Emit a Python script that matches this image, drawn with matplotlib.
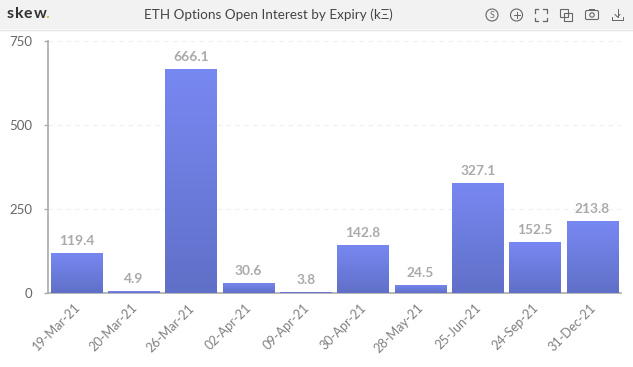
import numpy as np
import matplotlib
matplotlib.use("Agg")
import matplotlib.pyplot as plt
from matplotlib.patches import Rectangle, Circle, FancyBboxPatch
from matplotlib.colors import LinearSegmentedColormap
from matplotlib.transforms import ScaledTranslation

plt.rcParams['font.family'] = ['Lato', 'DejaVu Sans']

expiries = ["19-Mar-21", "20-Mar-21", "26-Mar-21", "02-Apr-21", "09-Apr-21",
            "30-Apr-21", "28-May-21", "25-Jun-21", "24-Sep-21", "31-Dec-21"]
open_interest = [119.4, 4.9, 666.1, 30.6, 3.8, 142.8, 24.5, 327.1, 152.5, 213.8]
y_ticks = [0, 250, 500, 750]
title = "ETH Options Open Interest by Expiry (k\u039E)"

W, H = 633, 367
fig = plt.figure(figsize=(W / 100, H / 100), dpi=100, facecolor="white")

# header / icon layer in pixel coordinates
ov = fig.add_axes([0, 0, 1, 1], zorder=0)
ov.set_xlim(0, W)
ov.set_ylim(H, 0)
ov.axis("off")
ov.add_patch(Rectangle((0, 0), W, 29, fc="#f2f2f2", ec="none"))
ov.plot([0, W], [29.5, 29.5], color="#e6e6e6", lw=1)
for ch, cx in zip("skew", [7, 15, 24, 33.5]):
    ov.text(cx, 14.5, ch, fontsize=11.5, fontweight="bold", color="#333333", va="center", ha="left")
ov.text(45, 14.5, ".", fontsize=11.5, fontweight="bold", color="#d9b45a", va="center", ha="left")
ov.text(268, 14.5, title, fontsize=9.7, color="#444444", va="center", ha="center")

ic = "#666666"
ov.add_patch(Circle((492, 15), 6, fc="none", ec=ic, lw=0.8))
ov.text(492, 15, "S", fontsize=6.5, color=ic, ha="center", va="center")
ov.add_patch(Circle((516.5, 15), 6, fc="none", ec=ic, lw=0.8))
ov.plot([513.5, 519.5], [15, 15], color=ic, lw=0.7)
ov.plot([516.5, 516.5], [12, 18], color=ic, lw=0.7)
for sx, sy in [(-1, -1), (1, -1), (-1, 1), (1, 1)]:
    cx, cy = 540.5 + sx * 6, 15 + sy * 6
    ov.plot([cx, cx, cx - sx * 3.5], [cy - sy * 3.5, cy, cy], color=ic, lw=0.9)
ov.add_patch(Rectangle((560, 9), 8, 8, fc="none", ec=ic, lw=0.8))
ov.add_patch(Rectangle((564, 13), 7.5, 7.5, fc="none", ec=ic, lw=0.8))
ov.add_patch(FancyBboxPatch((585.5, 10.5), 13, 9, boxstyle="round,pad=0,rounding_size=1.5", fc="none", ec=ic, lw=0.8))
ov.add_patch(Rectangle((589, 8.5), 6, 2, fc=ic, ec="none"))
ov.add_patch(Circle((592, 15), 2.2, fc="none", ec=ic, lw=0.8))
ov.plot([617.5, 617.5], [9, 17], color=ic, lw=0.7)
ov.plot([615, 617.5, 620], [14.5, 17, 14.5], color=ic, lw=0.7)
ov.plot([612, 612, 623, 623], [17, 20, 20, 17], color=ic, lw=0.7)

# chart
left, right, top, bottom = 48, 621, 40.5, 293
ax = fig.add_axes([left / W, 1 - bottom / H, (right - left) / W, (bottom - top) / H], zorder=1)
ax.patch.set_alpha(0)
x = np.arange(len(expiries))

cmap = LinearSegmentedColormap.from_list("bar", ["#7888f2", "#6070c8"])
grad = np.linspace(0, 1, 128).reshape(-1, 1)
bars = ax.bar(x, open_interest, width=0.9, color="#6c7ce0", linewidth=0, zorder=2)
for b, v in zip(bars, open_interest):
    im = ax.imshow(grad, cmap=cmap, aspect="auto", zorder=3,
                   extent=(b.get_x(), b.get_x() + b.get_width(), 0, b.get_height()))
    im.set_clip_path(b)
    ax.annotate(f"{v:.1f}", (b.get_x() + b.get_width() / 2, v), xytext=(0, 4.4),
                textcoords="offset points", ha="center", va="bottom",
                fontsize=9.9, fontweight="bold", color="#aaaaaa", zorder=4)
ax.set_xlim(-0.5, len(expiries) - 0.5)
ax.set_ylim(0, 750)

ax.set_yticks(y_ticks)
ax.set_xticks(x)
ax.set_xticklabels(expiries, rotation=45, ha="right", rotation_mode="anchor",
                   fontsize=9.2, color="#808080")
ax.tick_params(axis="x", length=0, pad=7)
shift = ScaledTranslation(-3 / 100, 1 / 100, fig.dpi_scale_trans)
for lab in ax.get_xticklabels():
    lab.set_transform(lab.get_transform() + shift)
ax.tick_params(axis="y", length=3, color="#aaaaaa", width=1, pad=8, labelsize=9.5, labelcolor="#666666")
ax.grid(axis="y", color="#eeeeee", linestyle=(0, (4, 4)), linewidth=0.8, zorder=0)
ax.set_axisbelow(True)
for s in ["top", "right"]:
    ax.spines[s].set_visible(False)
for s in ["left", "bottom"]:
    ax.spines[s].set_color("#aaaaaa")
    ax.spines[s].set_linewidth(1.2)

fig.savefig("out.png", dpi=100, facecolor="white")
